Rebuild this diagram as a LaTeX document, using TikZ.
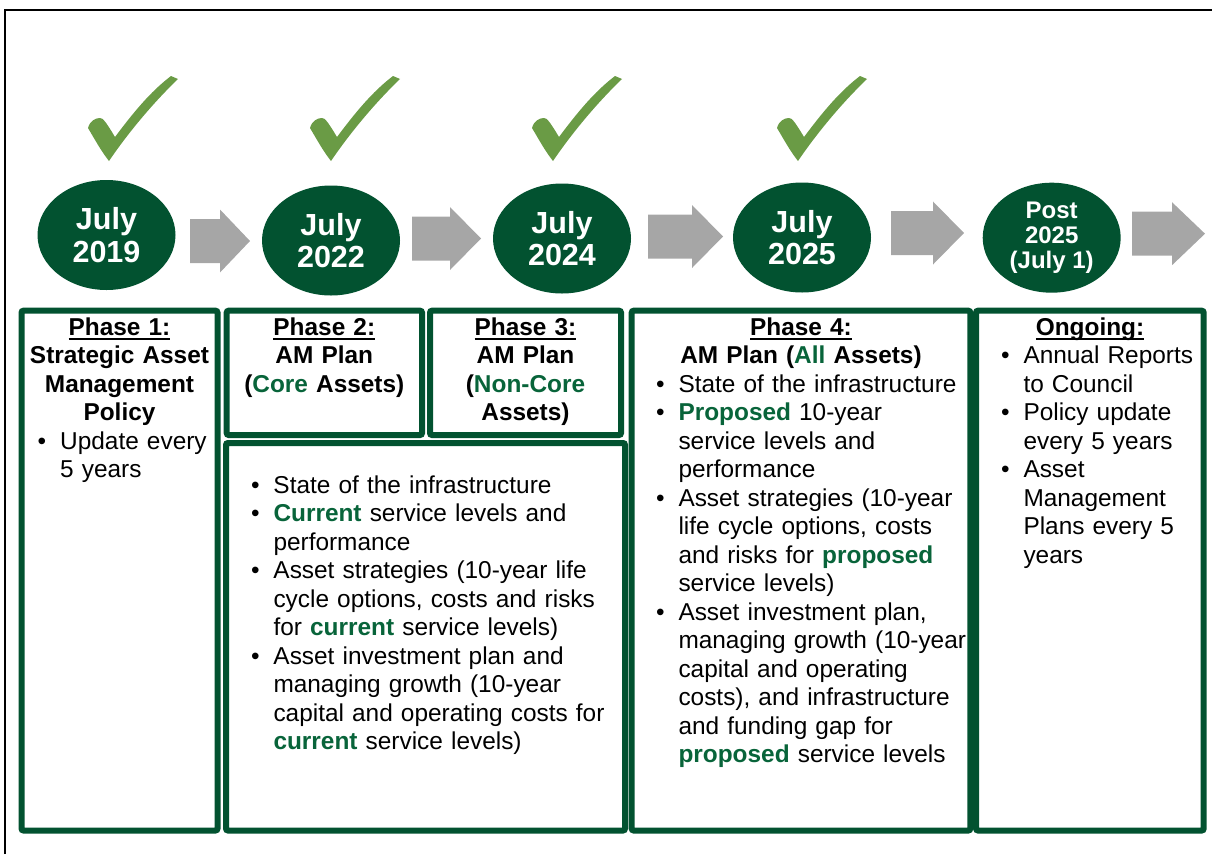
\documentclass[tikz,border=0pt]{standalone}
\usepackage{fontspec}
\setmainfont{Liberation Sans}
\usetikzlibrary{shapes.geometric}

\definecolor{amgreen}{RGB}{2,82,48}
\definecolor{amtext}{RGB}{8,100,58}
\definecolor{tickgreen}{RGB}{106,155,69}
\definecolor{arrowgray}{RGB}{166,166,166}

\newcommand{\grn}[1]{\textbf{\textcolor{amtext}{#1}}}
\newcommand{\ulhead}[1]{\setbox0\hbox{#1}\rlap{\rule[-4.5pt]{\wd0}{2pt}}\box0}
\newcommand{\bul}{\hangindent=22.5pt\hangafter=1\noindent\strut\makebox[22.5pt][l]{\textbullet}}

\begin{document}
\begin{tikzpicture}[x=1pt,y=-1pt,
    date/.style={ellipse, fill=amgreen, text=white, minimum width=138pt, minimum height=110pt,
        inner sep=0pt, align=center, font=\bfseries\fontsize{30.5}{32.5}\selectfont},
    box/.style={draw=amgreen, line width=6pt, rounded corners=2pt},
    head/.style={anchor=north, inner sep=0pt, text width=300pt, align=center,
        font=\bfseries\fontsize{24.4}{28.5}\selectfont},
    list/.style={anchor=north west, inner sep=0pt, text width=380pt, align=left,
        font=\fontsize{24.4}{28.5}\selectfont},
    tick/.style={fill=tickgreen},
    blockarrow/.style={fill=arrowgray}]
    \useasboundingbox (0,0) rectangle (1212,854);

    \draw [line width=2.5pt] (5,854) -- (5,10) -- (1212,10);   % outer frame

    % check marks above the finished phases
    \foreach \x in {88,310,532,777}
        \fill [tick, shift={(\x,76)}] (0,52) .. controls (2,45) and (7,42) .. (12,42)
            .. controls (15,42) and (18,46) .. (27,61)
            .. controls (45,37) and (62,16) .. (83,0) -- (90,3)
            .. controls (65,27) and (40,57) .. (21,85)
            .. controls (13,75) and (6,62) .. (0,52) -- cycle;

    % gray block arrows
    \foreach \a/\h/\b/\y in {190/220/250/241, 412/450/481/238.5, 648/692/723/236.5,
                             891/933/964/233, 1132/1172/1205/233.7}
        \fill [blockarrow] (\a,\y-22) -- (\h,\y-22) -- (\h,\y-31.5) -- (\b,\y)
            -- (\h,\y+31.5) -- (\h,\y+22) -- (\a,\y+22) -- cycle;

    % dates
    \node [date] (d2019) at (106.5,235) {July\\2019};
    \node [date] (d2022) at (331,240.5) {July\\2022};
    \node [date] (d2024) at (562,238.5) {July\\2024};
    \node [date] (d2025) at (802,237.5) {July\\2025};
    \node [date, font=\bfseries\fontsize{24}{25}\selectfont] (dpost) at (1051.7,237.7)
        {Post\\2025\\(July 1)};

    % phase boxes
    \draw [box] (21.5,310.7) rectangle (217.5,830.5);     % phase 1
    \draw [box] (226.7,310.7) rectangle (422,435);        % phase 2
    \draw [box] (430,310.7) rectangle (621,435);          % phase 3
    \draw [box] (226,443) rectangle (625,830.5);          % phase 2 and 3 contents
    \draw [box] (631.7,310.7) rectangle (970.3,830.5);    % phase 4
    \draw [box] (976,310.7) rectangle (1203.7,830.5);     % ongoing

    % texts
    \node [head] (p1head) at (119.5,315)
        {\strut\ulhead{Phase 1:}\\Strategic Asset\\Management\\Policy};
    \node [list] (p1list) at (37.5,429) {\bul Update every\newline 5 years\par};

    \node [head] (p2head) at (324.3,315)
        {\strut\ulhead{Phase 2:}\\AM Plan\\(\grn{Core} Assets)};
    \node [head] (p3head) at (525.5,315)
        {\strut\ulhead{Phase 3:}\\AM Plan\\(\grn{Non-Core}\\Assets)};
    \node [list] (p23list) at (250.8,473.3)
        {\bul State of the infrastructure\par
         \bul \grn{Current} service levels and\newline performance\par
         \bul Asset strategies (10-year life\newline cycle options, costs and risks\newline
              for \grn{current} service levels)\par
         \bul Asset investment plan and\newline managing growth (10-year\newline
              capital and operating costs for\newline \grn{current} service levels)\par};

    \node [head] (p4head) at (801,315)
        {\strut\ulhead{Phase 4:}\\AM Plan (\grn{All} Assets)};
    \node [list] (p4list) at (655.8,372)
        {\bul State of the infrastructure\par
         \bul \grn{Proposed} 10-year\newline service levels and\newline performance\par
         \bul Asset strategies (10-year\newline life cycle options, costs\newline
              and risks for \grn{proposed}\newline service levels)\par
         \bul Asset investment plan,\newline managing growth (10-year\newline
              capital and operating\newline costs), and infrastructure\newline
              and funding gap for\newline \grn{proposed} service levels\par};

    \node [head] (onghead) at (1090,315) {\strut\ulhead{Ongoing:}};
    \node [list] (onglist) at (1000.8,343.5)
        {\bul Annual Reports\newline to Council\par
         \bul Policy update\newline every 5 years\par
         \bul Asset\newline Management\newline Plans every 5\newline years\par};
\end{tikzpicture}
\end{document}
